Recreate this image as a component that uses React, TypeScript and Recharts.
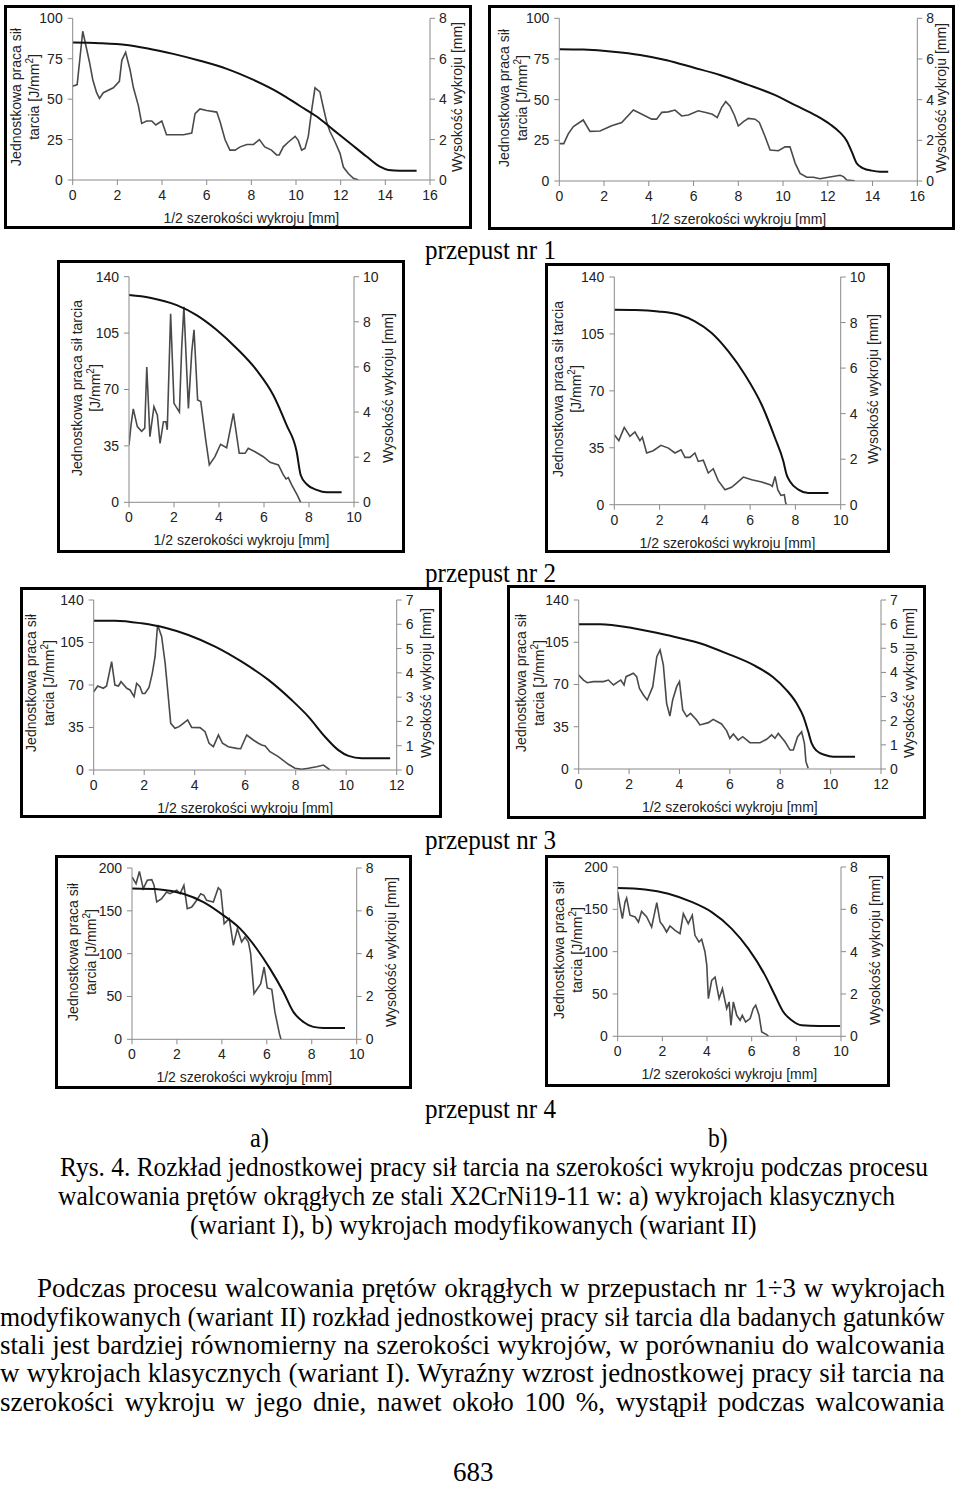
import { useLayoutEffect, useRef, useState } from "react";
import { ComposedChart, Line, XAxis, YAxis } from "recharts";

type Pt = [number, number];

// podziałki osi
const ticksX16 = [0, 2, 4, 6, 8, 10, 12, 14, 16];
const ticksX12 = [0, 2, 4, 6, 8, 10, 12];
const ticksX10 = [0, 2, 4, 6, 8, 10];
const ticksPraca100 = [0, 25, 50, 75, 100];
const ticksPraca140 = [0, 35, 70, 105, 140];
const ticksPraca200 = [0, 50, 100, 150, 200];
const ticksWys8 = [0, 2, 4, 6, 8];
const ticksWys10 = [0, 2, 4, 6, 8, 10];
const ticksWys7 = [0, 1, 2, 3, 4, 5, 6, 7];

const tytulX = "1/2 szerokości wykroju [mm]";
const tytulPrawy = "Wysokość wykroju [mm]";
const tytulLewyA = ["Jednostkowa praca sił", "tarcia [J/mm²]"];
const tytulLewyB = ["Jednostkowa praca sił tarcia", "[J/mm²]"];

// przepust nr 1
const p1aTarcie: Pt[] = [[0, 58], [0.2, 59], [0.45, 92], [0.75, 73], [0.9, 62], [1.07, 54], [1.2, 50.5], [1.37, 54], [1.82, 57], [2.09, 61], [2.2, 74], [2.37, 79], [2.57, 68], [2.72, 57], [2.94, 46], [3.09, 35], [3.31, 36.5], [3.54, 36.5], [3.72, 34], [3.99, 36.5], [4.2, 28], [4.5, 28], [4.96, 28], [5.33, 29], [5.48, 41], [5.7, 44], [6.0, 43], [6.45, 42], [6.6, 36], [6.82, 25], [7.04, 18.5], [7.27, 18.5], [7.5, 20.5], [7.8, 22], [8.1, 22], [8.36, 25], [8.6, 20.5], [8.9, 18.5], [9.13, 15.5], [9.25, 15.5], [9.43, 20.5], [9.66, 23.5], [9.96, 27], [10.1, 24.5], [10.25, 18.5], [10.4, 19.5], [10.55, 27], [10.7, 43], [10.85, 57], [11.07, 54.5], [11.22, 45], [11.37, 36], [11.52, 30], [11.75, 23.5], [11.97, 16.5], [12.12, 8], [12.34, 4], [12.57, 1], [12.8, 0]];
const p1aWykroj: Pt[] = [[0, 6.8], [1.22, 6.77], [2.42, 6.68], [3.31, 6.52], [4.5, 6.24], [5.7, 5.9], [6.9, 5.5], [8.1, 4.95], [9.28, 4.29], [10.18, 3.66], [10.93, 3.14], [11.67, 2.48], [12.42, 1.82], [13.16, 1.16], [13.76, 0.66], [14.13, 0.5], [14.66, 0.46], [15.4, 0.46]];
const p1bTarcie: Pt[] = [[0, 23], [0.2, 23], [0.4, 29], [0.63, 33.5], [1.07, 37.5], [1.37, 30.5], [1.82, 30.7], [2.34, 34], [2.79, 36], [3.31, 43.6], [3.76, 40.6], [4.13, 38], [4.35, 38], [4.58, 42.2], [4.87, 42.5], [5.17, 43.6], [5.47, 40], [5.77, 40.6], [6.21, 43.2], [6.59, 42], [6.84, 41], [7.06, 39], [7.26, 45.3], [7.44, 48.8], [7.63, 46], [7.82, 40.6], [8.0, 33.8], [8.23, 36.5], [8.45, 38.5], [8.75, 38], [8.94, 36], [9.2, 27.2], [9.42, 19], [9.79, 18.6], [10.09, 21], [10.31, 21], [10.54, 11], [10.76, 4.7], [11.06, 2.3], [11.36, 2.3], [11.65, 1.4], [12.03, 2.3], [12.55, 3.5], [12.7, 2.7], [12.85, 0.6], [13.2, 0.2]];
const p1bWykroj: Pt[] = [[0, 6.48], [1.07, 6.46], [2.41, 6.36], [3.61, 6.2], [4.8, 5.94], [5.99, 5.58], [7.18, 5.21], [8.38, 4.75], [9.57, 4.26], [10.61, 3.69], [11.5, 3.2], [12.1, 2.79], [12.55, 2.38], [12.85, 1.97], [13.07, 1.44], [13.29, 0.87], [13.59, 0.62], [13.96, 0.51], [14.33, 0.46], [14.7, 0.46]];

// przepust nr 2
const p2aTarcie: Pt[] = [[0, 35.6], [0.09, 48], [0.19, 58], [0.37, 47], [0.56, 44], [0.7, 46], [0.79, 84], [0.93, 40.7], [1.11, 59.3], [1.26, 54], [1.38, 36.6], [1.53, 50], [1.64, 50], [1.7, 45], [1.85, 117], [2.0, 61.4], [2.24, 56], [2.34, 95.5], [2.44, 121.4], [2.64, 58.3], [2.79, 93.5], [2.89, 107], [3.05, 63.5], [3.19, 62.5], [3.41, 38.7], [3.57, 23.2], [3.82, 28.3], [4.07, 36], [4.34, 33.9], [4.64, 55.2], [4.9, 30.4], [5.16, 30.4], [5.3, 33.5], [5.6, 31.4], [5.97, 28.3], [6.27, 24.8], [6.64, 23.2], [6.86, 17], [6.98, 14.5], [7.08, 15.3], [7.23, 10.8], [7.48, 4.5], [7.63, 0]];
const p2aWykroj: Pt[] = [[0, 9.19], [0.93, 9.07], [2.12, 8.74], [3.0, 8.3], [3.9, 7.64], [4.79, 6.82], [5.67, 5.86], [6.41, 4.76], [7.0, 3.43], [7.45, 2.25], [7.63, 1.21], [7.9, 0.8], [8.34, 0.55], [8.79, 0.44], [9.45, 0.44]];
const p2bTarcie: Pt[] = [[0, 43], [0.2, 39.4], [0.44, 47.5], [0.69, 42], [0.91, 44.7], [1.13, 39.4], [1.24, 41.4], [1.43, 31.8], [1.72, 33.2], [2.06, 36.5], [2.39, 34.8], [2.68, 31.8], [2.95, 33.8], [3.12, 29.1], [3.34, 29.1], [3.56, 31.8], [3.71, 26.6], [3.93, 27.3], [4.15, 19.5], [4.37, 22.1], [4.59, 14.8], [4.89, 9.2], [5.18, 10.7], [5.4, 13.3], [5.7, 17], [6.07, 15.4], [6.51, 13.9], [6.88, 12.3], [6.98, 11.3], [7.1, 17.4], [7.22, 9.2], [7.36, 5.7], [7.51, 6.1], [7.57, 1], [7.61, 0]];
const p2bWykroj: Pt[] = [[0, 8.56], [0.91, 8.55], [1.94, 8.49], [2.83, 8.35], [3.56, 8.05], [4.3, 7.54], [5.04, 6.73], [5.77, 5.71], [6.51, 4.39], [7.1, 2.93], [7.47, 1.9], [7.61, 1.32], [7.76, 1.02], [8.13, 0.66], [8.57, 0.51], [9.46, 0.51]];

// przepust nr 3
const p3aTarcie: Pt[] = [[0, 64.5], [0.16, 69.2], [0.38, 67.3], [0.51, 69.2], [0.71, 89.2], [0.84, 70], [0.98, 69.2], [1.08, 72.7], [1.31, 67.3], [1.44, 65.9], [1.6, 60.4], [1.7, 71.4], [1.83, 68.6], [1.93, 63], [2.03, 63], [2.19, 68], [2.32, 79.6], [2.43, 93.3], [2.53, 119.4], [2.69, 110], [2.83, 87.8], [2.96, 59], [3.05, 38.4], [3.22, 34.3], [3.38, 35.7], [3.55, 38.4], [3.72, 41.2], [3.88, 35.1], [4.21, 34.9], [4.41, 31.6], [4.57, 22], [4.74, 19.2], [4.94, 28.8], [5.1, 22], [5.33, 19.2], [5.66, 17.8], [5.82, 17.5], [6.06, 28.8], [6.32, 24.7], [6.52, 22], [6.65, 20.6], [6.79, 19.8], [6.98, 15.1], [7.31, 11], [7.71, 4.7], [7.97, 1.4], [8.24, 0.5], [8.5, 1.4], [8.83, 2.7], [9.1, 4.1], [9.36, 0]];
const p3aWykroj: Pt[] = [[0, 6.15], [0.84, 6.15], [1.9, 6.04], [2.83, 5.86], [3.75, 5.56], [4.81, 5.08], [5.86, 4.46], [6.92, 3.71], [7.84, 2.88], [8.5, 2.2], [9.16, 1.37], [9.69, 0.82], [10.09, 0.58], [10.61, 0.48], [11.74, 0.48]];
const p3bTarcie: Pt[] = [[0, 77.9], [0.19, 73.7], [0.34, 71.5], [0.58, 72.4], [0.98, 72.4], [1.18, 73.7], [1.38, 69.6], [1.57, 72.4], [1.67, 73.7], [1.8, 69.6], [1.88, 76.5], [2.17, 79.3], [2.3, 76.5], [2.41, 66.8], [2.57, 61.3], [2.72, 57.2], [2.94, 68.2], [3.1, 93], [3.23, 98.6], [3.36, 86.2], [3.49, 54.4], [3.62, 43.9], [3.73, 57.2], [3.89, 68.2], [4.0, 72.4], [4.13, 48.9], [4.29, 43.4], [4.44, 46.1], [4.68, 40.6], [4.81, 36.5], [5.15, 38.4], [5.34, 41.1], [5.67, 37.3], [5.87, 31.8], [6.0, 25.4], [6.14, 29], [6.33, 24], [6.51, 26.8], [6.8, 21.8], [7.2, 21.8], [7.46, 24.6], [7.66, 28.2], [7.79, 25.4], [7.92, 29.5], [8.19, 22.6], [8.39, 15.7], [8.52, 15.7], [8.69, 26.8], [8.85, 30.9], [8.96, 21.3], [9.02, 6.1], [9.11, 0.6]];
const p3bWykroj: Pt[] = [[0, 6.0], [0.85, 6.0], [2.17, 5.83], [3.49, 5.55], [4.81, 5.21], [5.87, 4.79], [6.93, 4.31], [7.72, 3.8], [8.25, 3.27], [8.65, 2.72], [8.92, 2.17], [9.11, 1.55], [9.25, 1.06], [9.44, 0.76], [9.78, 0.58], [10.1, 0.51], [10.97, 0.51]];

// przepust nr 4
const p4aTarcie: Pt[] = [[0, 189.5], [0.18, 181.7], [0.33, 196], [0.5, 175.9], [0.68, 185.6], [0.88, 186.4], [0.98, 179.8], [1.1, 160.3], [1.32, 164.2], [1.54, 171.9], [1.69, 170], [1.99, 174], [2.14, 170], [2.31, 179.8], [2.46, 152.5], [2.66, 154.5], [2.88, 162.3], [3.06, 170], [3.2, 168], [3.32, 162.3], [3.62, 160.3], [3.84, 177], [3.95, 174], [4.1, 135], [4.33, 140.9], [4.51, 109.7], [4.69, 129.2], [4.88, 113.6], [5.03, 119.5], [5.18, 113.6], [5.28, 100], [5.43, 53.3], [5.58, 59.1], [5.73, 65], [5.88, 84.4], [6.02, 59.9], [6.22, 58.4], [6.36, 31.9], [6.56, 6.6], [6.63, 0]];
const p4aWykroj: Pt[] = [[0, 7.04], [1.25, 7.0], [2.28, 6.8], [3.18, 6.41], [4.07, 5.79], [4.81, 5.17], [5.55, 4.23], [6.14, 3.3], [6.74, 2.21], [7.18, 1.28], [7.63, 0.81], [8.07, 0.58], [8.52, 0.53], [9.48, 0.53]];
const p4bTarcie: Pt[] = [[0, 170.5], [0.1, 154.7], [0.21, 139], [0.33, 158.7], [0.4, 163.4], [0.55, 143], [0.78, 141], [0.93, 135], [1.07, 147.6], [1.3, 141], [1.52, 129], [1.75, 157.9], [1.9, 135], [2.04, 130.3], [2.19, 123.2], [2.34, 130.3], [2.57, 125.2], [2.79, 121.3], [2.94, 145], [3.16, 133], [3.34, 143], [3.46, 119.3], [3.64, 111.4], [3.76, 114.6], [3.91, 99.6], [3.99, 83.9], [4.06, 44.5], [4.21, 66.1], [4.36, 70], [4.54, 44.5], [4.69, 56.3], [4.88, 32.7], [4.99, 40.6], [5.07, 13], [5.18, 40.6], [5.33, 24.8], [5.48, 18.9], [5.58, 24.8], [5.73, 16.9], [5.93, 20.9], [6.07, 32.7], [6.18, 36.6], [6.33, 24.8], [6.45, 5.1], [6.67, 2], [6.75, 0]];
const p4bWykroj: Pt[] = [[0, 7.01], [1.22, 6.94], [2.27, 6.74], [3.31, 6.35], [4.21, 5.87], [5.1, 5.09], [5.85, 4.14], [6.6, 2.88], [7.04, 1.94], [7.42, 1.15], [7.79, 0.76], [8.24, 0.52], [8.99, 0.49], [9.96, 0.49]];

const podpisPrzepustu = ["przepust nr 1", "przepust nr 2", "przepust nr 3", "przepust nr 4"];
const podpisRys = [
  "Rys. 4. Rozkład jednostkowej pracy sił tarcia na szerokości wykroju podczas procesu",
  "walcowania prętów okrągłych ze stali X2CrNi19-11 w: a) wykrojach klasycznych",
  "(wariant I), b) wykrojach modyfikowanych (wariant II)",
];
const akapit = [
  "Podczas procesu walcowania prętów okrągłych w przepustach nr 1÷3 w wykrojach",
  "modyfikowanych (wariant II) rozkład jednostkowej pracy sił tarcia dla badanych gatunków",
  "stali jest bardziej równomierny na szerokości wykrojów, w porównaniu do walcowania",
  "w wykrojach klasycznych (wariant I). Wyraźny wzrost jednostkowej pracy sił tarcia na",
  "szerokości wykroju w jego dnie, nawet około 100 %, wystąpił podczas walcowania",
];

type PanelDef = {
  frame: [number, number, number, number];
  plot: [number, number, number, number];
  ticksX: number[];
  ticksL: number[];
  ticksR: number[];
  tarcie: Pt[];
  wykroj: Pt[];
  leftTitle: string[];
  leftCx: number;
  rightCx: number;
};

const panels: PanelDef[] = [
  { frame: [4, 5, 472, 229], plot: [72.7, 18.3, 430, 180], ticksX: ticksX16, ticksL: ticksPraca100, ticksR: ticksWys8, tarcie: p1aTarcie, wykroj: p1aWykroj, leftTitle: tytulLewyA, leftCx: 25, rightCx: 457 },
  { frame: [488, 5, 955, 230], plot: [559.3, 18.3, 917.3, 181], ticksX: ticksX16, ticksL: ticksPraca100, ticksR: ticksWys8, tarcie: p1bTarcie, wykroj: p1bWykroj, leftTitle: tytulLewyA, leftCx: 513, rightCx: 941 },
  { frame: [57, 260, 405, 553], plot: [129, 276.7, 354, 502.3], ticksX: ticksX10, ticksL: ticksPraca140, ticksR: ticksWys10, tarcie: p2aTarcie, wykroj: p2aWykroj, leftTitle: tytulLewyB, leftCx: 86, rightCx: 388 },
  { frame: [545, 263, 890, 553], plot: [614.3, 277, 840.7, 504.7], ticksX: ticksX10, ticksL: ticksPraca140, ticksR: ticksWys10, tarcie: p2bTarcie, wykroj: p2bWykroj, leftTitle: tytulLewyB, leftCx: 567, rightCx: 873 },
  { frame: [20, 587, 442, 818], plot: [93.7, 600, 396.7, 770], ticksX: ticksX12, ticksL: ticksPraca140, ticksR: ticksWys7, tarcie: p3aTarcie, wykroj: p3aWykroj, leftTitle: tytulLewyA, leftCx: 40, rightCx: 426 },
  { frame: [507, 585, 926, 819], plot: [578.7, 600, 881, 769], ticksX: ticksX12, ticksL: ticksPraca140, ticksR: ticksWys7, tarcie: p3bTarcie, wykroj: p3bWykroj, leftTitle: tytulLewyA, leftCx: 530, rightCx: 909 },
  { frame: [55, 855, 412, 1089], plot: [132, 868, 356.7, 1039.3], ticksX: ticksX10, ticksL: ticksPraca200, ticksR: ticksWys8, tarcie: p4aTarcie, wykroj: p4aWykroj, leftTitle: tytulLewyA, leftCx: 82, rightCx: 391 },
  { frame: [545, 855, 890, 1087], plot: [617.7, 867, 841, 1036.3], ticksX: ticksX10, ticksL: ticksPraca200, ticksR: ticksWys8, tarcie: p4bTarcie, wykroj: p4bWykroj, leftTitle: tytulLewyA, leftCx: 568, rightCx: 875 },
];

const sans = '"Liberation Sans", Arial, sans-serif';
const serif = '"Liberation Serif", "Times New Roman", serif';
const tickStyle = { fill: "#222", fontSize: 14, fontFamily: sans };
const osGray = "#8a8a8a";

function withSup(t: string) {
  const parts = t.split("²");
  if (parts.length < 2) return t;
  return (
    <>
      {parts[0]}
      <sup style={{ fontSize: 10, lineHeight: 0 }}>2</sup>
      {parts[1]}
    </>
  );
}

function Panel({ d }: { d: PanelDef }) {
  const [fl, ft, fr, fb] = d.frame;
  const [pl, pt, pr, pb] = d.plot;
  const B = 3;
  const il = fl + B;
  const it = ft + B;
  const iw = fr - fl - 2 * B;
  const ih = fb - ft - 2 * B;
  const leftW = pl - il;
  const rightW = il + iw - pr;
  const bottomH = it + ih - pb;
  const tarcie = d.tarcie.map(([x, y]) => ({ x, y }));
  const wykroj = d.wykroj.map(([x, h]) => ({ x, h }));
  const xMax = d.ticksX[d.ticksX.length - 1];
  const cy = (pt + pb) / 2 - 2;
  const rot: React.CSSProperties = {
    position: "absolute",
    transform: "translate(-50%, -50%) rotate(-90deg)",
    whiteSpace: "nowrap",
    textAlign: "center",
    fontFamily: sans,
    fontSize: 14,
    lineHeight: "18px",
    color: "#222",
  };

  return (
    <>
      <div
        style={{
          position: "absolute",
          left: fl,
          top: ft,
          width: fr - fl,
          height: fb - ft,
          boxSizing: "border-box",
          border: `${B}px solid #000`,
          background: "#fff",
        }}
      >
        <ComposedChart
          width={iw}
          height={ih}
          margin={{ top: pt - it, right: 0, bottom: 0, left: 0 }}
        >
          <XAxis
            dataKey="x"
            type="number"
            domain={[0, xMax]}
            ticks={d.ticksX}
            interval={0}
            allowDataOverflow
            height={bottomH}
            stroke={osGray}
            tickSize={5}
            tickMargin={5}
            tick={tickStyle}
          />
          <YAxis
            yAxisId="l"
            orientation="left"
            domain={[0, d.ticksL[d.ticksL.length - 1]]}
            ticks={d.ticksL}
            interval={0}
            allowDataOverflow
            width={leftW}
            stroke={osGray}
            tickSize={5}
            tickMargin={5}
            tick={tickStyle}
          />
          <YAxis
            yAxisId="r"
            orientation="right"
            domain={[0, d.ticksR[d.ticksR.length - 1]]}
            ticks={d.ticksR}
            interval={0}
            allowDataOverflow
            width={rightW}
            stroke={osGray}
            tickSize={5}
            tickMargin={4}
            tick={tickStyle}
          />
          <Line
            data={tarcie}
            dataKey="y"
            yAxisId="l"
            type="linear"
            stroke="#4a4a4a"
            strokeWidth={1.6}
            dot={false}
            isAnimationActive={false}
          />
          <Line
            data={wykroj}
            dataKey="h"
            yAxisId="r"
            type="monotone"
            stroke="#111"
            strokeWidth={2}
            dot={false}
            isAnimationActive={false}
          />
        </ComposedChart>
      </div>
      <div style={{ ...rot, left: d.leftCx, top: cy }}>
        {d.leftTitle.map((t, i) => (
          <div key={i}>{withSup(t)}</div>
        ))}
      </div>
      <div style={{ ...rot, left: d.rightCx, top: cy }}>{tytulPrawy}</div>
      <div
        style={{
          position: "absolute",
          left: (pl + pr) / 2,
          top: pb + 38,
          transform: "translate(-50%, -50%)",
          whiteSpace: "nowrap",
          fontFamily: sans,
          fontSize: 14,
          color: "#222",
        }}
      >
        {tytulX}
      </div>
    </>
  );
}

// wiersz tekstu dopasowany do szerokości z oryginału
function TextRow({
  text,
  left,
  cy,
  width,
  justify,
}: {
  text: string;
  left: number;
  cy: number;
  width?: number;
  justify?: boolean;
}) {
  const ref = useRef<HTMLSpanElement>(null);
  const done = useRef(false);
  const [scale, setScale] = useState(1);
  const [gap, setGap] = useState(0);

  useLayoutEffect(() => {
    if (done.current || !ref.current || !width) return;
    done.current = true;
    const w = ref.current.offsetWidth;
    if (justify && w < width) {
      const spaces = text.split(" ").length - 1;
      setGap(spaces > 0 ? (width - w) / spaces : 0);
    } else {
      setScale(width / w);
    }
  }, [text, width, justify]);

  return (
    <div
      style={{
        position: "absolute",
        left,
        top: cy - 16,
        height: 32,
        lineHeight: "32px",
        fontFamily: serif,
        fontSize: 27,
        color: "#000",
        whiteSpace: "nowrap",
        transformOrigin: "0 50%",
        transform: `scaleX(${scale})`,
      }}
    >
      <span ref={ref} style={{ wordSpacing: gap }}>
        {text}
      </span>
    </div>
  );
}

export default function App() {
  const przepustY = [250, 573, 840, 1109];
  const akapitY = [1288, 1317, 1345, 1373, 1402];
  return (
    <div
      style={{
        position: "absolute",
        left: 0,
        top: 0,
        width: 960,
        height: 1487,
        background: "#fff",
      }}
    >
      {panels.map((d, i) => (
        <Panel key={i} d={d} />
      ))}
      {podpisPrzepustu.map((t, i) => (
        <TextRow key={t} text={t} left={425} cy={przepustY[i]} width={131} />
      ))}
      <TextRow text="a)" left={250} cy={1138} width={19} />
      <TextRow text="b)" left={708} cy={1138} width={20} />
      <TextRow text={podpisRys[0]} left={60} cy={1167} width={868} />
      <TextRow text={podpisRys[1]} left={58} cy={1196} width={837} />
      <TextRow text={podpisRys[2]} left={190} cy={1225} width={567} />
      {akapit.map((t, i) => (
        <TextRow
          key={i}
          text={t}
          left={i === 0 ? 37 : 0}
          cy={akapitY[i]}
          width={i === 0 ? 908 : 945}
          justify
        />
      ))}
      <TextRow text="683" left={453} cy={1472} />
    </div>
  );
}
